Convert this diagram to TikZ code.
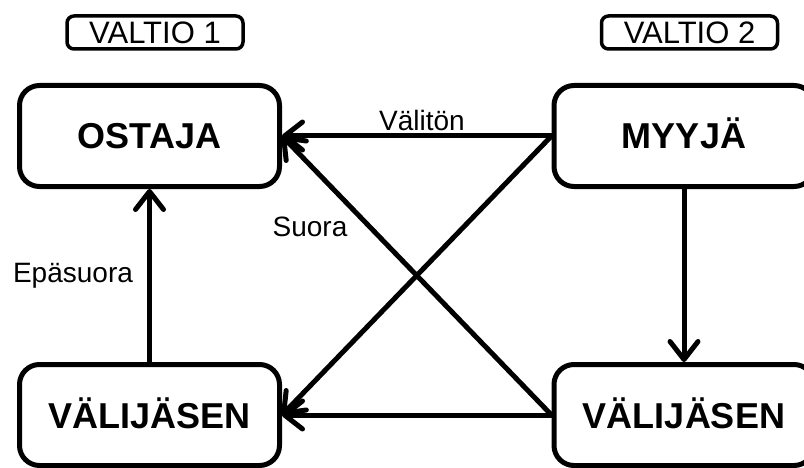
\documentclass[tikz,border=0pt]{standalone}
\usepackage{fontspec}
\setmainfont{Liberation Sans}
\usetikzlibrary{arrows.meta, positioning}

\begin{document}
\begin{tikzpicture}[x=1pt,y=1pt,
    box/.style={draw, line width=5pt, rounded corners=20pt, minimum width=260pt, minimum height=101pt,
      text height=26pt, text depth=0pt, font=\fontsize{36}{40}\selectfont\bfseries},
    tagbox/.style={draw, line width=3.5pt, rounded corners=7pt, minimum width=176pt, minimum height=33pt,
      inner sep=0pt, text height=22pt, text depth=0pt, font=\fontsize{31}{34}\selectfont},
    flow/.style={-{Straight Barb[length=18pt,width=28pt,line cap=round,line join=round]}, line width=5pt},
    lbl/.style={text height=20pt, text depth=0pt, font=\fontsize{28}{32}\selectfont}]
    \clip (0,0) rectangle (804,467);

    % maat
    \node[tagbox] (valtio1) at (155,434.5) {VALTIO 1};
    \node[tagbox] (valtio2) at (689.5,434.5) {VALTIO 2};

    % toimijat
    \node[box] (ostaja) at (149.5,331) {OSTAJA};
    \node[box] (myyja) at (684,331) {MYYJÄ};
    \node[box] (vali1) at (149.5,52) {VÄLIJÄSEN};
    \node[box] (vali2) at (684,52) {VÄLIJÄSEN};

    % kauppareitit
    \draw[flow] (myyja.west) -- (ostaja.east);
    \draw[flow] (myyja.west) -- (vali1.east);
    \draw[flow] (vali2.west) -- (ostaja.east);
    \draw[flow] (vali2.west) -- (vali1.east);
    \draw[flow] (vali1.north) -- (ostaja.south);
    \draw[flow] (myyja.south) -- (vali2.north);

    \node[lbl] (valiton) at (422,347) {Välitön};
    \node[lbl] (suora) at (310,241) {Suora};
    \node[lbl] (epasuora) at (73,195) {Epäsuora};
\end{tikzpicture}
\end{document}
